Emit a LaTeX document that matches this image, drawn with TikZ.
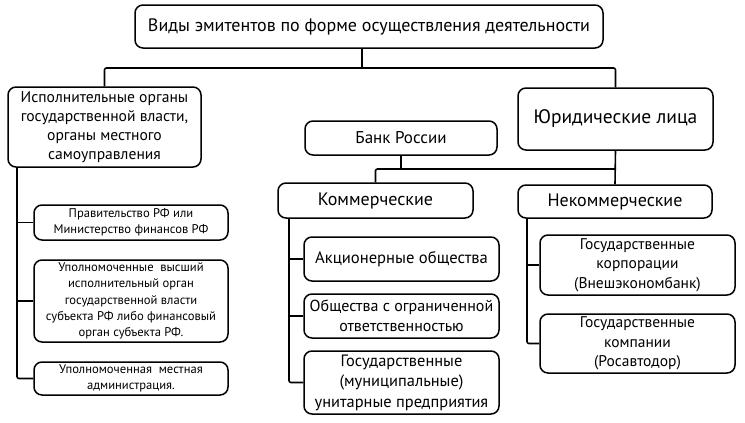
\documentclass[tikz,border=0pt]{standalone}
\usepackage{fontspec}
\setmainfont{PT Sans}
\begin{document}
\begin{tikzpicture}[x=1pt,y=-1pt,
  box/.style={draw, line width=1.5pt, rounded corners=8pt, align=center, inner sep=0pt, font=\fontsize{15}{19}\selectfont},
  smallbox/.style={box, font=\fontsize{12.6}{16.3}\selectfont},
  conn/.style={line width=1.6pt}]
\useasboundingbox (0,0) rectangle (745,423);
\node[box, minimum width=468pt, minimum height=43pt, font=\fontsize{18}{22}\selectfont] (top) at (369,26.5) {Виды эмитентов по форме осуществления деятельности};
\node[box, minimum width=193pt, minimum height=80pt, font=\fontsize{15.6}{19}\selectfont] (isp) at (104.5,127) {Исполнительные органы\\государственной власти,\\органы местного\\самоуправления};
\node[smallbox, minimum width=194pt, minimum height=35pt] (lp1) at (131,222.5) {Правительство РФ или\\Министерство финансов РФ};
\node[smallbox, minimum width=194pt, minimum height=82pt] (lp2) at (131,301) {Уполномоченные \ высший\\исполнительный орган\\государственной власти\\субъекта РФ либо финансовый\\орган субъекта РФ.};
\node[smallbox, minimum width=194pt, minimum height=33pt] (lp3) at (131,378.5) {Уполномоченная \ местная\\администрация.};
\node[box, minimum width=192pt, minimum height=34pt, font=\fontsize{17}{20}\selectfont] (bank) at (401,138) {Банк России};
\node[box, minimum width=195pt, minimum height=62pt, font=\fontsize{19.5}{23}\selectfont] (jur) at (615.5,119) {Юридические лица};
\node[box, minimum width=195pt, minimum height=35pt, font=\fontsize{18}{20}\selectfont] (kom) at (375.5,200.5) {Коммерческие};
\node[box, minimum width=194pt, minimum height=33pt, font=\fontsize{18}{20}\selectfont] (nekom) at (615,201.5) {Некоммерческие};
\node[box, minimum width=195pt, minimum height=44pt, font=\fontsize{16.6}{20}\selectfont] (k1) at (401.5,259) {Акционерные общества};
\node[box, minimum width=195pt, minimum height=44pt, font=\fontsize{16}{20}\selectfont] (k2) at (401.5,316) {Общества с ограниченной\\ответственностью};
\node[box, minimum width=195pt, minimum height=63pt, font=\fontsize{16.4}{20.5}\selectfont] (k3) at (401.5,382.5) {Государственные\\(муниципальные)\\унитарные предприятия};
\node[box, minimum width=195pt, minimum height=60pt, font=\fontsize{15.5}{19.5}\selectfont] (n1) at (637.5,265) {Государственные\\корпорации\\(Внешэкономбанк)};
\node[box, minimum width=195pt, minimum height=59pt, font=\fontsize{15.5}{19.5}\selectfont] (n2) at (637.5,343.5) {Государственные\\компании\\(Росавтодор)};
% connectors
\coordinate (h1) at (362,68);
\coordinate (hb) at (0,169);
\coordinate (sL) at (17,0);
\coordinate (sK) at (289,0);
\coordinate (sN) at (527,0);
\draw[conn] (top.south -| h1) -- (h1);
\draw[conn, rounded corners=2pt] (isp.north) |- (h1) -| (jur.north);
\draw[conn, rounded corners=2pt] (isp.south -| sL) |- (lp3.west);
\draw[conn] (lp1.west -| sL) -- (lp1.west);
\draw[conn] (lp2.west -| sL) -- (lp2.west);
\draw[conn] (bank.south) -- (bank.south |- hb);
\draw[conn, rounded corners=2pt] (kom.north) |- (hb -| nekom.north);
\draw[conn] (jur.south) -- (nekom.north);
\draw[conn, rounded corners=2pt] (kom.south -| sK) |- (k3.west);
\draw[conn] (k1.west -| sK) -- (k1.west);
\draw[conn] (k2.west -| sK) -- (k2.west);
\draw[conn, rounded corners=2pt] (nekom.south -| sN) |- (n2.west);
\draw[conn] (n1.west -| sN) -- (n1.west);
\end{tikzpicture}
\end{document}
